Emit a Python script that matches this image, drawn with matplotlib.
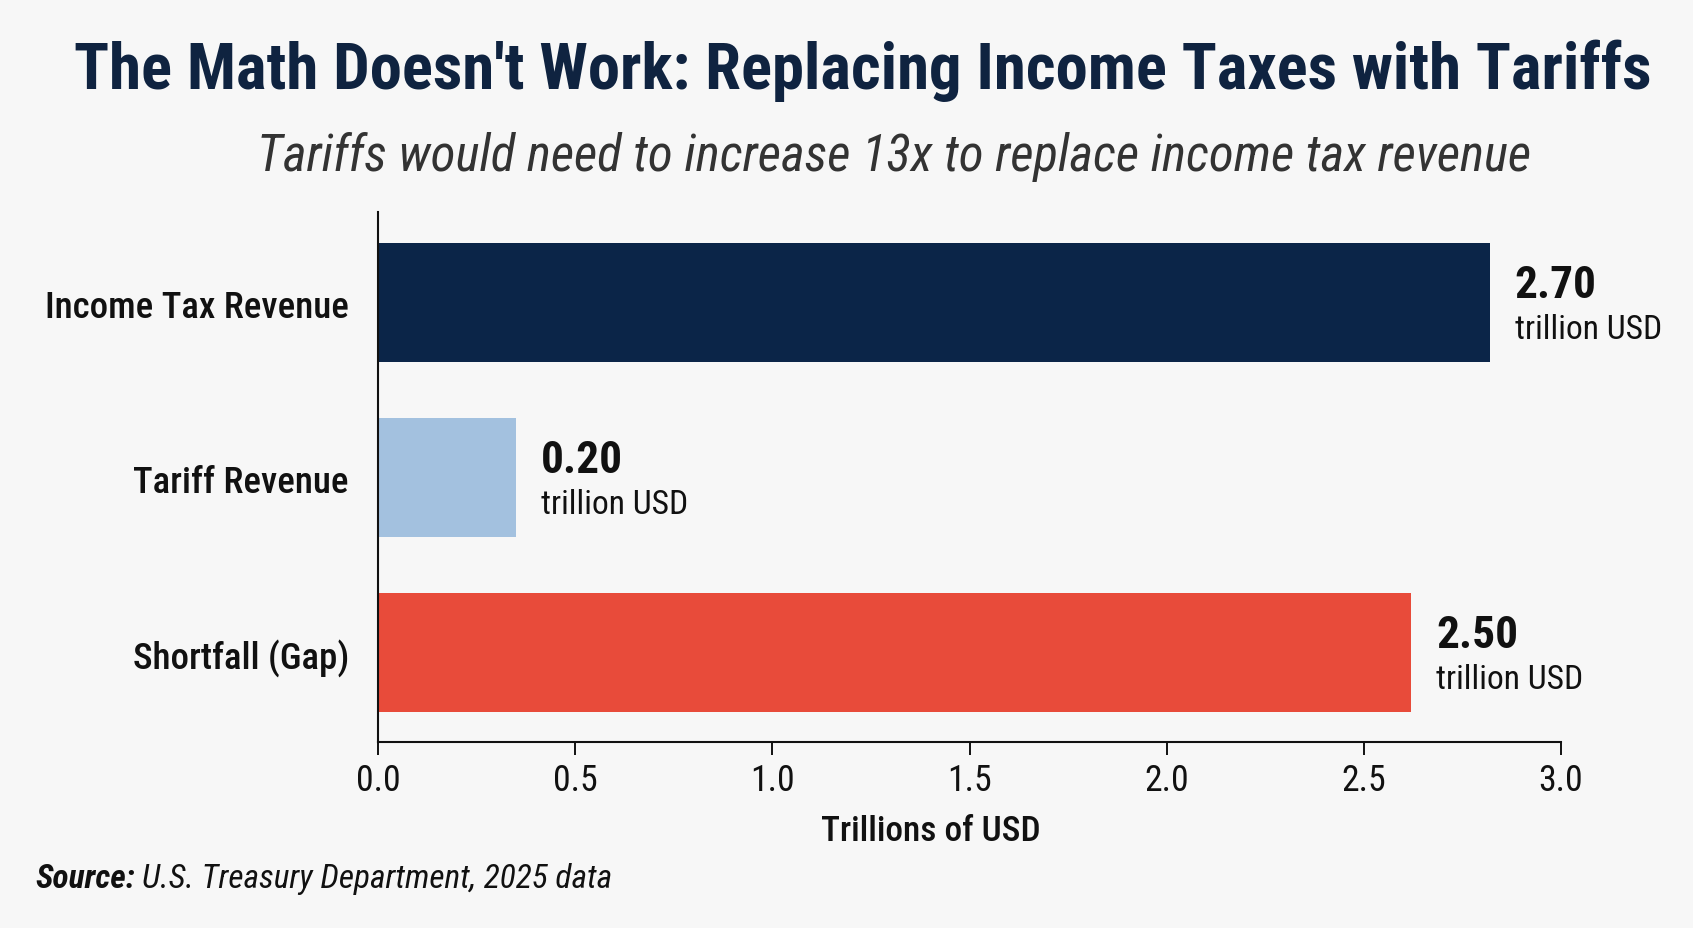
import matplotlib
matplotlib.use("Agg")
import matplotlib.pyplot as plt
from matplotlib import font_manager

# Datos del gráfico
categories = ["Income Tax Revenue", "Tariff Revenue", "Shortfall (Gap)"]
values = [2.70, 0.20, 2.50]          # valores impresos junto a las barras
bar_lengths = [2.82, 0.35, 2.62]     # largo de las barras tal como se ven contra el eje
unit_label = "trillion USD"
xticks = [0.0, 0.5, 1.0, 1.5, 2.0, 2.5, 3.0]

colors = ["#0b2548", "#a3c1df", "#e84b3a"]
navy = "#0f2340"
bg = "#f7f7f7"
W, H = 1693, 929

# Familia condensada si existe, si no Roboto
installed = {f.name for f in font_manager.fontManager.ttflist}
cond = [n for n in ["Roboto Condensed", "DejaVu Sans Condensed",
                    "Open Sans Condensed", "Noto Sans Condensed"] if n in installed]
plt.rcParams["font.family"] = cond[:1] + ["Roboto", "DejaVu Sans"]

fig = plt.figure(figsize=(W / 100, H / 100), dpi=100, facecolor=bg)
renderer = fig.canvas.get_renderer()


def size_for(text, width_px, **kw):
    # tamaño de fuente para que el texto ocupe width_px pixeles
    t = fig.text(0, 0, text, fontsize=20, **kw)
    w = t.get_window_extent(renderer).width
    t.remove()
    return 20 * width_px / w


def px(x, y):
    return x / W, 1 - y / H


# Eje principal
left, right, top, bottom = 378, 1561, 213, 743
ax = fig.add_axes([left / W, 1 - bottom / H, (right - left) / W, (bottom - top) / H])
ax.set_facecolor(bg)

ypos = list(range(len(categories)))
ax.barh(ypos, bar_lengths, height=0.68, color=colors, zorder=2)
ax.set_xlim(0, 3.0)
ax.set_ylim(2.51, -0.52)

for s in ["top", "right"]:
    ax.spines[s].set_visible(False)
for s in ["left", "bottom"]:
    ax.spines[s].set_linewidth(1.5)
    ax.spines[s].set_color("#111111")

cat_size = size_for(categories[0], 304, fontweight="medium")
ax.set_yticks(ypos)
ax.set_yticklabels(categories, fontsize=cat_size, fontweight="medium", color="#111111")
ax.tick_params(axis="y", length=0, pad=21)

tick_size = size_for("0.0", 39) * 1.15
ax.set_xticks(xticks)
ax.set_xticklabels([f"{t:.1f}" for t in xticks], fontsize=tick_size, color="#111111")
ax.tick_params(axis="x", length=9.5, width=1.4, color="#111111", pad=5)

ax.set_xlabel("Trillions of USD", fontsize=size_for("Trillions of USD", 216),
              fontweight="medium", color="#111111")
ax.xaxis.set_label_coords((931 - left) / (right - left), -(832 - bottom) / (bottom - top))
ax.xaxis.label.set_va("center")

# Etiquetas de valor
num_size = size_for("2.70", 82, fontweight="bold")
unit_size = size_for(unit_label, 147)
for y, length, v in zip(ypos, bar_lengths, values):
    ax.text(length + 0.063, y - 0.10, f"{v:.2f}", fontsize=num_size, fontweight="bold",
            color="#111111", va="center", ha="left", clip_on=False)
    ax.text(length + 0.063, y + 0.15, unit_label, fontsize=unit_size,
            color="#111111", va="center", ha="left", clip_on=False)

# Títulos
title = "The Math Doesn't Work: Replacing Income Taxes with Tariffs"
fig.text(*px(863, 71), title, fontsize=size_for(title, 1575, fontweight="bold"),
         fontweight="bold", color=navy, ha="center", va="center")
subtitle = "Tariffs would need to increase 13x to replace income tax revenue"
fig.text(*px(894, 157), subtitle, fontsize=size_for(subtitle, 1274, style="italic"),
         style="italic", color="#333333", ha="center", va="center")

# Fuente
src_size = size_for("Source: U.S. Treasury Department, 2025 data", 573, style="italic")
s1 = fig.text(*px(35, 879), "Source:", fontsize=src_size, fontweight="bold",
              style="italic", color="#111111", ha="left", va="center")
w1 = s1.get_window_extent(renderer).width
fig.text(*px(35 + w1 + 7, 879), "U.S. Treasury Department, 2025 data", fontsize=src_size,
         style="italic", color="#111111", ha="left", va="center")

fig.savefig("out.png", dpi=100, facecolor=bg)
